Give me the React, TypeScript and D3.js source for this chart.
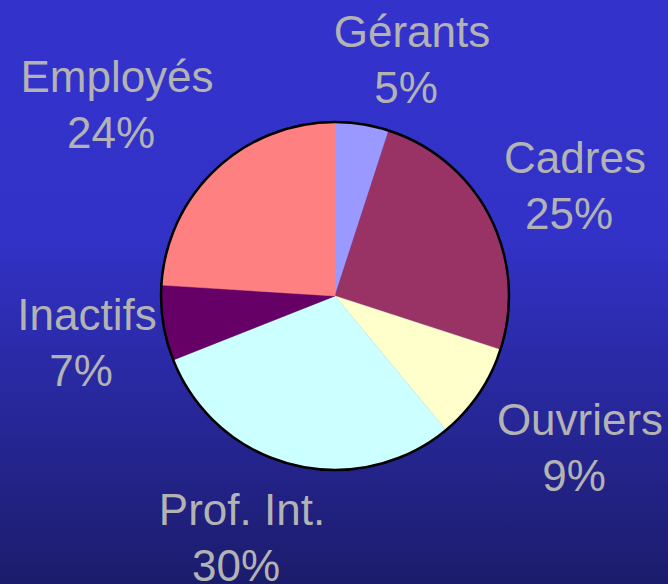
import React from "react";
import * as d3 from "d3";

const categories = ["Gérants", "Cadres", "Ouvriers", "Prof. Int.", "Inactifs", "Employés"];
const values = [5, 25, 9, 30, 7, 24];
const colors = ["#9999ff", "#993366", "#ffffcc", "#ccffff", "#660066", "#ff8080"];
// label anchor points (center x of name line, baseline of first line)
const labelX = [412, 575, 580, 242, 87, 117];
const labelY = [47, 173, 435, 525, 330, 92];

const W = 668;
const H = 584;
const cx = 335;
const cy = 296;
const R = 174;

export default function App() {
  const pie = d3.pie<number>().sort(null).value((d) => d)(values);
  const arc = d3.arc<d3.PieArcDatum<number>>().innerRadius(0).outerRadius(R);
  return (
    <svg width={W} height={H} style={{ position: "absolute", left: 0, top: 0, display: "block" }}>
      <defs>
        <linearGradient id="bg" x1="0" y1="0" x2="0" y2="1">
          <stop offset="0" stopColor="#3333cc" />
          <stop offset="0.4" stopColor="#3232c8" />
          <stop offset="1" stopColor="#1c1c6c" />
        </linearGradient>
      </defs>
      <rect x={0} y={0} width={W} height={H} fill="url(#bg)" />
      <g transform={`translate(${cx},${cy})`}>
        {pie.map((p, i) => (
          <path key={i} d={arc(p) || ""} fill={colors[i]} stroke={colors[i]} strokeWidth={0.5} />
        ))}
        <circle r={R} fill="none" stroke="#000" strokeWidth={2.5} />
      </g>
      {categories.map((c, i) => (
        <text
          key={c}
          textAnchor="middle"
          fill="#b3b3b3"
          fontFamily="'Liberation Sans', Arial, sans-serif"
          fontSize={44}
        >
          <tspan x={labelX[i]} y={labelY[i]}>{c}</tspan>
          <tspan x={labelX[i] - 6} y={labelY[i] + 56}>{`${values[i]}%`}</tspan>
        </text>
      ))}
    </svg>
  );
}
